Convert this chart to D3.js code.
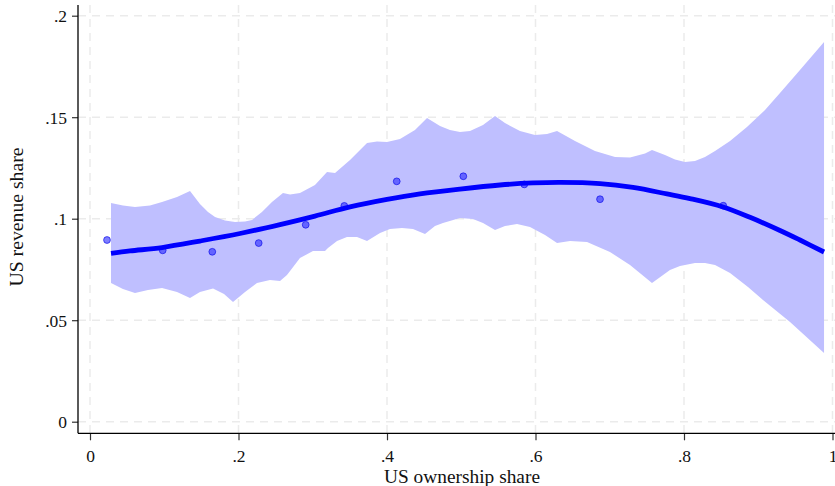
<!DOCTYPE html>
<html>
<head>
<meta charset="utf-8">
<script src="https://cdn.jsdelivr.net/npm/d3@7"></script>
<style>
  body { margin: 0; background: #fff; }
  text { font-family: "Liberation Serif", "DejaVu Serif", serif; fill: #111; }
</style>
</head>
<body>
<div id="chart"></div>
<script>
// binned scatter
const binX = [0.0229, 0.0979, 0.1647, 0.2272, 0.2905, 0.3425, 0.4131, 0.5028, 0.5849, 0.6869, 0.8529];
const binY = [0.0895, 0.0844, 0.0837, 0.0880, 0.0970, 0.1063, 0.1184, 0.1209, 0.1169, 0.1096, 0.1064];

// fitted line
const fitX = [0.0283, 0.0539, 0.0970, 0.1481, 0.2020, 0.2559, 0.3030, 0.3502, 0.4000, 0.4444, 0.4983, 0.5522,
  0.5966, 0.6330, 0.6869, 0.7313, 0.7771, 0.8081, 0.8525, 0.8889, 0.9293, 0.9562, 0.9886];
const fitY = [0.0829, 0.0841, 0.0858, 0.0890, 0.0927, 0.0971, 0.1013, 0.1058, 0.1095, 0.1122, 0.1146, 0.1166,
  0.1176, 0.1179, 0.1173, 0.1154, 0.1122, 0.1099, 0.1058, 0.1007, 0.0942, 0.0895, 0.0836];

// confidence band, upper edge
const upX = [0.0283, 0.0444, 0.0606, 0.0808, 0.0970, 0.1172, 0.1347, 0.1481, 0.1589, 0.1684, 0.1818, 0.1953,
  0.2088, 0.2182, 0.2316, 0.2451, 0.2599, 0.2694, 0.2828, 0.3030, 0.3192, 0.3300, 0.3502, 0.3731, 0.3865,
  0.4000, 0.4175, 0.4377, 0.4539, 0.4714, 0.4848, 0.4983, 0.5118, 0.5293, 0.5455, 0.5589, 0.5791, 0.5993,
  0.6155, 0.6290, 0.6532, 0.6801, 0.7071, 0.7273, 0.7475, 0.7569, 0.7744, 0.7879, 0.8013, 0.8148, 0.8283,
  0.8418, 0.8620, 0.8848, 0.9091, 0.9293, 0.9562, 0.9886];
const upY = [0.1077, 0.1065, 0.1058, 0.1065, 0.1082, 0.1107, 0.1136, 0.1072, 0.1033, 0.1008, 0.0991, 0.0984,
  0.0986, 0.0994, 0.1033, 0.1082, 0.1127, 0.1119, 0.1127, 0.1166, 0.1230, 0.1225, 0.1289, 0.1373, 0.1380,
  0.1378, 0.1393, 0.1437, 0.1496, 0.1457, 0.1437, 0.1427, 0.1432, 0.1462, 0.1506, 0.1471, 0.1432, 0.1412,
  0.1417, 0.1432, 0.1383, 0.1333, 0.1304, 0.1301, 0.1321, 0.1338, 0.1314, 0.1292, 0.1279, 0.1284, 0.1304,
  0.1333, 0.1383, 0.1452, 0.1535, 0.1619, 0.1733, 0.1870];

// confidence band, lower edge
const loX = [0.0283, 0.0444, 0.0606, 0.0781, 0.0970, 0.1172, 0.1347, 0.1481, 0.1657, 0.1805, 0.1926, 0.2088,
  0.2249, 0.2424, 0.2559, 0.2653, 0.2828, 0.3003, 0.3165, 0.3205, 0.3327, 0.3461, 0.3596, 0.3731, 0.3906,
  0.4040, 0.4202, 0.4350, 0.4512, 0.4646, 0.4754, 0.4983, 0.5158, 0.5293, 0.5455, 0.5589, 0.5751, 0.5926,
  0.6128, 0.6290, 0.6465, 0.6694, 0.7003, 0.7273, 0.7569, 0.7811, 0.7946, 0.8148, 0.8283, 0.8418, 0.8620,
  0.8862, 0.9064, 0.9428, 0.9886];
const loY = [0.0683, 0.0654, 0.0634, 0.0649, 0.0659, 0.0639, 0.0609, 0.0639, 0.0656, 0.0629, 0.0590, 0.0639,
  0.0683, 0.0698, 0.0693, 0.0723, 0.0806, 0.0841, 0.0841, 0.0856, 0.0890, 0.0910, 0.0910, 0.0890, 0.0930,
  0.0949, 0.0954, 0.0949, 0.0925, 0.0964, 0.0979, 0.1003, 0.0999, 0.0979, 0.0944, 0.0964, 0.0974, 0.0959,
  0.0920, 0.0880, 0.0890, 0.0885, 0.0836, 0.0772, 0.0683, 0.0747, 0.0767, 0.0782, 0.0782, 0.0772, 0.0733,
  0.0664, 0.0600, 0.0491, 0.0338];

const xTicks = [0, 0.2, 0.4, 0.6, 0.8, 1];
const xTickLabels = ["0", ".2", ".4", ".6", ".8", "1"];
const yTicks = [0, 0.05, 0.1, 0.15, 0.2];
const yTickLabels = ["0", ".05", ".1", ".15", ".2"];

const W = 835, H = 486;

const svg = d3.select("#chart").append("svg")
  .attr("width", W)
  .attr("height", H);

const x = d3.scaleLinear().domain([0, 1]).range([90, 832.5]);
const y = d3.scaleLinear().domain([0, 0.2]).range([421.7, 15.7]);

const plotLeft = 78, plotRight = 835, plotTop = 5, plotBottom = 433.3;

// grid
const grid = svg.append("g")
  .attr("stroke", "#ebebeb")
  .attr("stroke-width", 1.5)
  .attr("stroke-dasharray", "8,6");

grid.selectAll(".gx")
  .data(xTicks)
  .enter()
  .append("line")
  .attr("x1", (d) => x(d))
  .attr("x2", (d) => x(d))
  .attr("y1", plotTop)
  .attr("y2", plotBottom);

grid.selectAll(".gy")
  .data(yTicks)
  .enter()
  .append("line")
  .attr("x1", plotLeft)
  .attr("x2", plotRight)
  .attr("y1", (d) => y(d))
  .attr("y2", (d) => y(d));

// CI band
const bandPts = upX.map((d, i) => [x(d), y(upY[i])])
  .concat(loX.map((d, i) => [x(d), y(loY[i])]).reverse());

svg.append("path")
  .attr("d", d3.line()(bandPts) + "Z")
  .attr("fill", "rgb(191,191,255)")
  .attr("stroke", "none");

// points
svg.append("g")
  .selectAll("circle")
  .data(binX)
  .enter()
  .append("circle")
  .attr("cx", (d) => x(d))
  .attr("cy", (d, i) => y(binY[i]))
  .attr("r", 3.4)
  .attr("fill", "rgba(40,40,255,0.6)")
  .attr("stroke", "rgba(0,0,230,0.6)")
  .attr("stroke-width", 1);

// fit line
svg.append("path")
  .datum(fitX.map((d, i) => [d, fitY[i]]))
  .attr("d", d3.line().x((d) => x(d[0])).y((d) => y(d[1])).curve(d3.curveCatmullRom.alpha(0.5)))
  .attr("fill", "none")
  .attr("stroke", "#0000ff")
  .attr("stroke-width", 4.8);

// axes
const xAxis = svg.append("g")
  .attr("transform", `translate(0,${plotBottom})`)
  .call(d3.axisBottom(x).tickValues(xTicks).tickFormat((d, i) => xTickLabels[i]).tickSizeOuter(0).tickSize(7).tickPadding(9));

xAxis.select(".domain").remove();
xAxis.append("line")
  .attr("x1", plotLeft).attr("x2", plotRight)
  .attr("y1", 0).attr("y2", 0)
  .attr("stroke", "#000").attr("stroke-width", 1.3);

const yAxis = svg.append("g")
  .attr("transform", `translate(${plotLeft},0)`)
  .call(d3.axisLeft(y).tickValues(yTicks).tickFormat((d, i) => yTickLabels[i]).tickSizeOuter(0).tickSize(6).tickPadding(5));

yAxis.select(".domain").remove();
yAxis.append("line")
  .attr("x1", 0).attr("x2", 0)
  .attr("y1", plotTop).attr("y2", plotBottom)
  .attr("stroke", "#000").attr("stroke-width", 1.3);

svg.selectAll(".tick line").attr("stroke", "#333").attr("stroke-width", 1.2);
svg.selectAll(".tick text")
  .attr("font-family", "'Liberation Serif', serif")
  .attr("font-size", 17.5)
  .attr("fill", "#111");
yAxis.selectAll(".tick text").attr("dy", "0.35em");

// titles
svg.append("text")
  .attr("x", 462)
  .attr("y", 483)
  .attr("text-anchor", "middle")
  .attr("font-size", 18)
  .attr("textLength", 156)
  .attr("lengthAdjust", "spacingAndGlyphs")
  .text("US ownership share");

svg.append("text")
  .attr("transform", "translate(23,217) rotate(-90)")
  .attr("text-anchor", "middle")
  .attr("font-size", 18)
  .attr("textLength", 139)
  .attr("lengthAdjust", "spacingAndGlyphs")
  .text("US revenue share");
</script>
</body>
</html>
